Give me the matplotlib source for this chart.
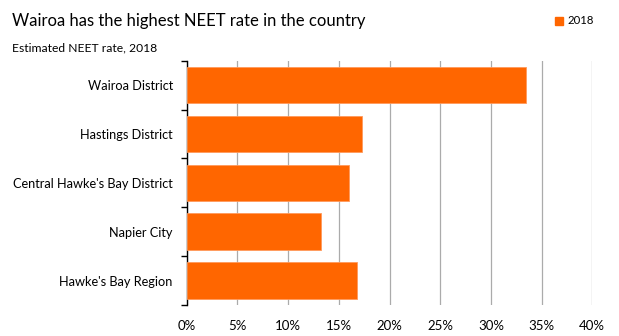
import matplotlib.pyplot as plt
from matplotlib.ticker import FuncFormatter, FixedLocator
from matplotlib.patches import Rectangle

# NEET rate by area, 2018 (percent)
areas = ['Wairoa District', 'Hastings District', "Central Hawke's Bay District",
         'Napier City', "Hawke's Bay Region"]
neet_2018 = [33.5, 17.3, 16.0, 13.2, 16.8]
x_ticks = [0, 5, 10, 15, 20, 25, 30, 35, 40]

orange = '#ff6600'
plt.rcParams['font.family'] = ['Lato', 'DejaVu Sans']

fig = plt.figure(figsize=(6.19, 3.36), dpi=100)
ax = fig.add_axes([186.7/619, 1 - 305/336, (592.3 - 186.7)/619, (305 - 60.7)/336])

pos = list(range(len(areas)))
ax.barh(pos, neet_2018, height=0.75, color=orange, edgecolor='#ff9a5c', linewidth=0.6, zorder=3)
ax.set_ylim(len(areas) - 0.5, -0.5)
ax.set_xlim(0, 40)

# category labels sit between boundary ticks
ax.set_yticks(pos)
ax.set_yticklabels(areas, fontsize=9.2)
ax.yaxis.set_minor_locator(FixedLocator([p - 0.5 for p in pos] + [len(areas) - 0.5]))
ax.tick_params(axis='y', which='major', length=0, pad=10)
ax.tick_params(axis='y', which='minor', length=4, width=1, color='black', direction='out')

ax.set_xticks(x_ticks)
ax.xaxis.set_major_formatter(FuncFormatter(lambda v, _: f'{v:.0f}%'))
ax.tick_params(axis='x', length=0, labelsize=9.5, pad=11)
ax.grid(axis='x', color='#ababab', linewidth=0.9, zorder=0)

for side in ['top', 'right', 'bottom']:
    ax.spines[side].set_visible(False)
ax.spines['left'].set_color('black')
ax.spines['left'].set_linewidth(1)

fig.text(12/619, 1 - 21/336, 'Wairoa has the highest NEET rate in the country',
         fontsize=12, va='center', ha='left')
fig.text(12/619, 1 - 48/336, 'Estimated NEET rate, 2018', fontsize=8.7, va='center', ha='left')

# legend
fig.patches.append(Rectangle((555/619, 1 - 25/336), 8/619, 8/336, color=orange,
                             transform=fig.transFigure, figure=fig))
fig.text(567/619, 1 - 21/336, '2018', fontsize=8.2, va='center', ha='left')

fig.savefig('out.png', dpi=100)
